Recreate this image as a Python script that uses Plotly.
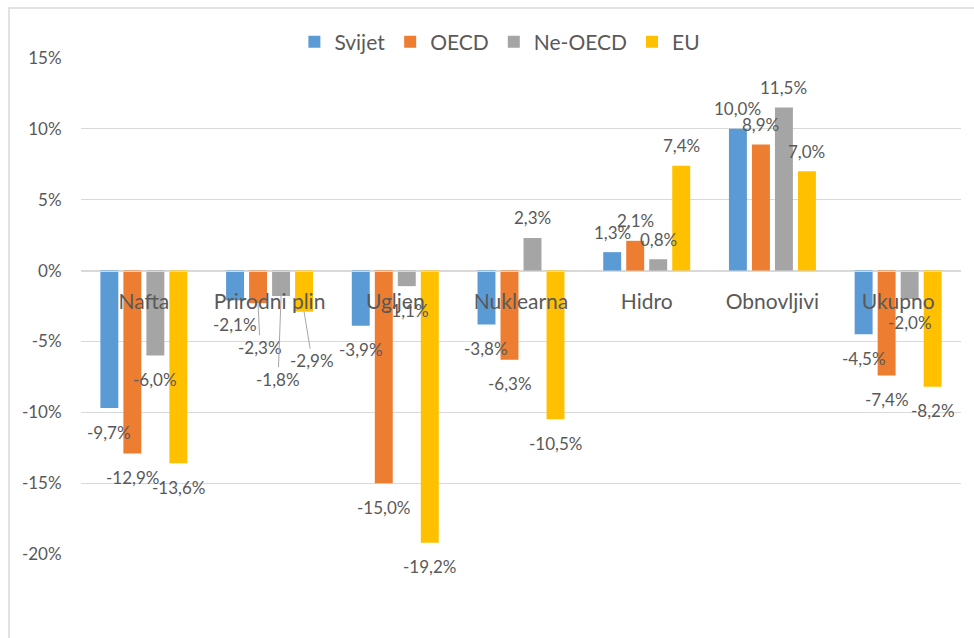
import plotly.graph_objects as go

# Energy sources and percentage change per region
categories = ["Nafta", "Prirodni plin", "Ugljen", "Nuklearna", "Hidro", "Obnovljivi", "Ukupno"]
series_names = ["Svijet", "OECD", "Ne-OECD", "EU"]
svijet = [-9.7, -2.1, -3.9, -3.8, 1.3, 10.0, -4.5]
oecd = [-12.9, -2.3, -15.0, -6.3, 2.1, 8.9, -7.4]
ne_oecd = [-6.0, -1.8, -1.1, 2.3, 0.8, 11.5, -2.0]
eu = [-13.6, -2.9, -19.2, -10.5, 7.4, 7.0, -8.2]
y_ticks = [-20, -15, -10, -5, 0, 5, 10, 15]
y_tick_labels = ["-20%", "-15%", "-10%", "-5%", "0%", "5%", "10%", "15%"]

values = [svijet, oecd, ne_oecd, eu]
colors = ["#5B9BD5", "#ED7D31", "#A5A5A5", "#FFC000"]

TEXT = "#595959"
FONT = "Lato"
GRID = "#D9D9D9"

BARGAP = 0.268
GROUPGAP = 0.22
Y_MIN, Y_MAX = -20, 15

# plot area in pixels
W, H = 974, 638
M_L, M_R, M_T, M_B = 81, 13, 58, 84

fig = go.Figure()
for name, vals, col in zip(series_names, values, colors):
    fig.add_trace(go.Bar(
        name=name, x=categories, y=vals,
        marker=dict(color=col, line=dict(width=0)),
        hoverinfo="skip",
    ))


def fmt(v):
    return f"{v:.1f}".replace(".", ",") + "%"


# labels that were dragged away from their bars, with leader lines (pixel offsets)
moved = {(1, 1): (2, 44), (1, 2): (-3, 83), (1, 3): (8, 49)}

slot = (1 - BARGAP) / len(series_names)
annotations = []
for j, vals in enumerate(values):
    for i, v in enumerate(vals):
        xpos = i + (j - (len(series_names) - 1) / 2) * slot
        if (i, j) in moved:
            ax, ay = moved[(i, j)]
            annotations.append(dict(
                x=xpos, y=v, xref="x", yref="y", text=fmt(v),
                showarrow=True, arrowhead=0, arrowwidth=1, arrowcolor="#A6A6A6",
                ax=ax, ay=ay, font=dict(family=FONT, size=17, color=TEXT),
            ))
        else:
            annotations.append(dict(
                x=xpos, y=v, xref="x", yref="y", text=fmt(v), showarrow=False,
                yshift=-24 if v < 0 else 20,
                font=dict(family=FONT, size=17, color=TEXT),
            ))

fig.update_layout(
    width=W, height=H,
    margin=dict(l=M_L, r=M_R, t=M_T, b=M_B),
    paper_bgcolor="white", plot_bgcolor="white",
    barmode="group", bargap=BARGAP, bargroupgap=GROUPGAP,
    font=dict(family=FONT, color=TEXT),
    showlegend=True,
    legend=dict(
        orientation="h", x=0.476, xanchor="center", y=1.032, yanchor="middle",
        font=dict(family=FONT, size=21, color=TEXT),
        itemclick=False, itemdoubleclick=False,
    ),
    xaxis=dict(
        type="category", anchor="free",
        position=(0 - Y_MIN) / (Y_MAX - Y_MIN),
        showline=True, linecolor=GRID, linewidth=1,
        showgrid=False, zeroline=False,
        ticks="outside", ticklen=12, tickcolor="rgba(0,0,0,0)",
        tickfont=dict(family=FONT, size=21, color=TEXT),
        layer="above traces",
    ),
    yaxis=dict(
        range=[Y_MIN, Y_MAX], tickmode="array",
        tickvals=y_ticks, ticktext=y_tick_labels,
        showgrid=True, gridcolor=GRID, gridwidth=1,
        zeroline=False, showline=False,
        ticks="outside", ticklen=15, tickcolor="rgba(0,0,0,0)",
        tickfont=dict(family=FONT, size=17, color=TEXT),
    ),
    annotations=annotations,
    shapes=[dict(
        type="rect", xref="paper", yref="paper",
        x0=(9 - M_L) / (W - M_L - M_R), x1=1.1,
        y0=-0.3, y1=(H - M_B - 8) / (H - M_T - M_B),
        line=dict(color=GRID, width=1.5), fillcolor="rgba(0,0,0,0)", layer="below",
    )],
)

fig.write_html("out.html")
